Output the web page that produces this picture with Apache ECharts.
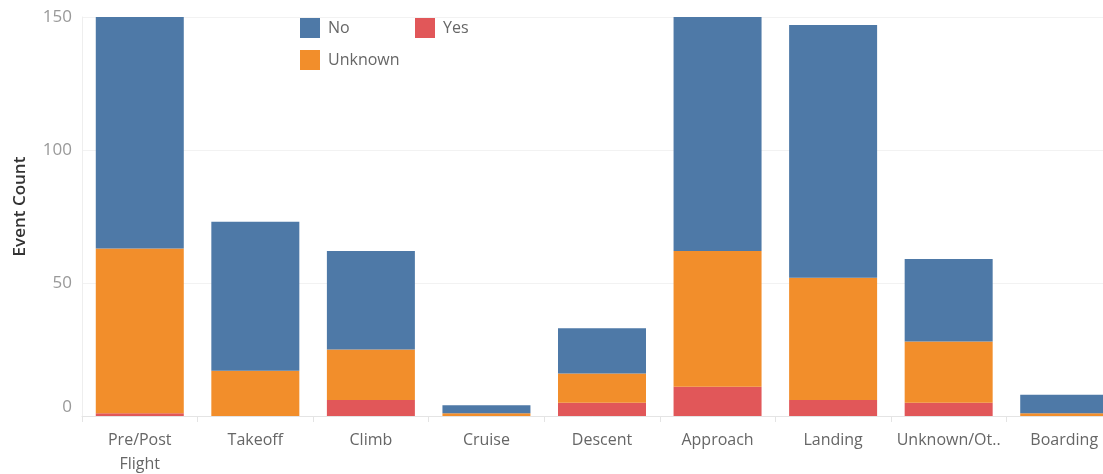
<!DOCTYPE html>
<html>
<head>
<meta charset="utf-8">
<script src="https://cdn.jsdelivr.net/npm/echarts@6/dist/echarts.min.js"></script>
<style>
  html, body { margin: 0; padding: 0; background: #fff; }
  #chart { width: 1103px; height: 474px; }
</style>
</head>
<body>
<div id="chart"></div>
<script>
const categories = ["Pre/Post Flight", "Takeoff", "Climb", "Cruise", "Descent", "Approach", "Landing", "Unknown/Other", "Boarding"];
const tickLabels = ["Pre/Post\nFlight", "Takeoff", "Climb", "Cruise", "Descent", "Approach", "Landing", "Unknown/Ot..", "Boarding"];
const yesValues = [1, 0, 6, 0, 5, 11, 6, 5, 0];
const unknownValues = [62, 17, 19, 1, 11, 51, 46, 23, 1];
const noValues = [87, 56, 37, 3, 17, 88, 95, 31, 7];
const yTicks = [0, 50, 100, 150];

const colors = { No: "#4e79a7", Yes: "#e15759", Unknown: "#f28e2b" };
const font = "Open Sans";

const chart = echarts.init(document.getElementById("chart"), null, { renderer: "canvas" });

const legendBase = (name, left, top) => ({
  data: [name],
  left,
  top,
  padding: 0,
  icon: "rect",
  itemWidth: 20,
  itemHeight: 20,
  selectedMode: false,
  textStyle: { color: "#666", fontSize: 16, fontFamily: font, padding: [0, 0, 0, 3] },
});

const makeSeries = (name, data) => ({
  name,
  type: "bar",
  stack: "events",
  barWidth: 88,
  clip: false,
  itemStyle: { color: colors[name] },
  data,
});

chart.setOption({
  animation: false,
  legend: [
    legendBase("No", 300, 18),
    legendBase("Yes", 415, 18),
    legendBase("Unknown", 300, 50),
  ],
  // plot area runs past the right edge so the last bar is cut off
  grid: {
    left: 82,
    width: 1040,
    top: 17,
    bottom: 58,
    containLabel: false,
    outerBoundsMode: "none",
  },
  xAxis: {
    type: "category",
    data: categories,
    axisLine: { lineStyle: { color: "#e4e4e4" } },
    axisTick: { show: true, length: 6, lineStyle: { color: "#e4e4e4" } },
    axisLabel: {
      interval: 0,
      margin: 12,
      color: "#666",
      fontSize: 16,
      fontFamily: font,
      lineHeight: 24,
      formatter: (v, i) => tickLabels[i],
    },
  },
  yAxis: {
    type: "value",
    min: yTicks[0],
    max: yTicks[yTicks.length - 1],
    interval: 50,
    name: "Event Count",
    nameLocation: "middle",
    nameGap: 53,
    nameTextStyle: { color: "#333", fontSize: 17, fontFamily: font, fontWeight: 600, padding: [0, 0, 0, 20] },
    axisLine: { show: true, lineStyle: { color: "#eeeeee" } },
    axisTick: { show: false },
    splitLine: { lineStyle: { color: "#f2f2f2" } },
    axisLabel: {
      color: "#999",
      fontSize: 17,
      fontFamily: font,
      margin: 10,
      formatter: (v) => (v === 0 ? "{z|0}" : String(v)),
      rich: { z: { color: "#999", fontSize: 17, fontFamily: font, padding: [0, 0, 18, 0] } },
    },
  },
  series: [
    makeSeries("Yes", yesValues),
    makeSeries("Unknown", unknownValues),
    makeSeries("No", noValues),
  ],
});
</script>
</body>
</html>
